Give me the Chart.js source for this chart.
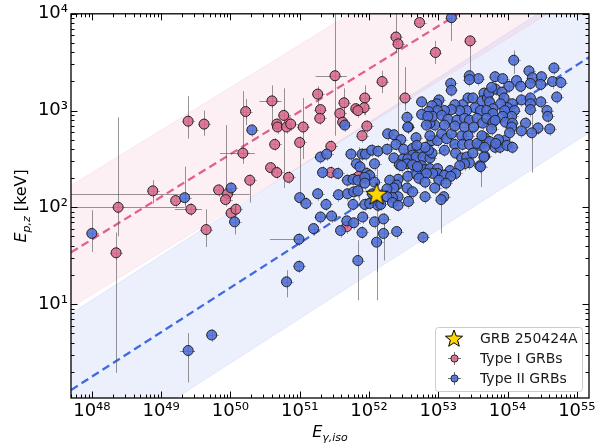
<!DOCTYPE html>
<html>
<head>
<meta charset="utf-8">
<script src="https://cdn.jsdelivr.net/npm/chart.js@4.4.1/dist/chart.umd.min.js"></script>
<style>
  html, body { margin: 0; padding: 0; background: #fff; }
  canvas { display: block; }
</style>
</head>
<body>
<canvas id="amati" width="603" height="443"></canvas>
<script>
// axis limits
const X_MIN = 5e47, X_MAX = 1.5e55;
const Y_MIN = 1.07, Y_MAX = 1e4;
const xTickValues = [1e48, 1e49, 1e50, 1e51, 1e52, 1e53, 1e54, 1e55];
const yTickValues = [1e1, 1e2, 1e3, 1e4];

// Type I GRBs (log10 Eiso [erg], log10 Ep,z [keV])
const typeILogE = [48.38,48.35,48.88,49.21,49.43,49.39,49.62,49.83,49.96,49.93,
  50.01,50.08,50.18,50.22,50.28,50.58,50.60,50.64,50.67,50.68,
  50.67,50.77,50.81,50.87,50.84,51.00,49.65,51.51,51.26,51.30,
  51.29,51.64,51.94,51.93,51.81,51.58,51.62,51.05,51.97,51.90,
  52.73,52.39,52.42,52.96,53.46,52.19,52.52,51.45,51.45,51.85,
  51.68,51.84];
const typeILogEp = [2.00,1.53,2.17,2.07,1.98,2.89,2.86,2.18,2.14,2.08,
  1.94,1.98,2.56,2.99,2.28,2.41,3.10,2.65,2.86,2.83,
  2.36,2.95,2.83,2.86,2.31,2.67,1.77,3.36,3.17,3.01,
  2.92,3.08,3.13,3.03,3.02,2.97,2.88,2.83,2.84,2.74,
  3.91,3.76,3.69,3.60,3.72,3.30,3.13,2.63,2.36,2.32,
  1.80,3.00];
// visible error bars: [logE, logEp low, logEp high] and [logEp, logE low, logE high]
const typeIEpBars = [[48.38,1.70,2.93],[48.35,0.29,1.74],[48.88,2.04,2.28],[49.39,2.71,3.15],
  [49.62,2.74,3.00],[49.93,2.08,2.85],[50.18,2.45,3.20],[50.22,2.85,3.12],[50.60,2.87,3.26],
  [50.77,2.20,3.23],[49.65,1.59,1.98],[51.51,2.74,4.10],[51.26,2.95,3.25],[52.39,3.60,4.10],
  [52.42,2.78,3.69],[52.96,3.48,3.72],[52.19,3.18,3.41],[52.52,3.00,3.45],[51.85,2.07,2.62],
  [53.46,3.40,3.75],[51.05,2.50,3.13],[51.64,2.80,3.23],[51.94,2.95,3.26],[51.00,2.12,2.70],
  [50.28,2.05,2.28]];
const typeIEBars = [[2.00,47.0,49.34],[2.14,47.0,50.28],[2.56,49.85,50.35],[3.10,50.42,50.74],
  [3.36,51.23,51.68],[1.98,49.20,49.59],[3.13,51.86,52.04]];

// Type II GRBs (log10 Eiso, log10 Ep,z)
const typeIILogE = [48.00,49.34,49.39,49.73,50.01,50.06,50.31,50.81,50.99,50.99,
  51.00,51.30,51.39,51.33,51.26,51.09,51.38,51.30,51.20,51.55,
  51.65,51.56,51.69,51.46,51.59,51.68,51.69,51.77,51.84,51.78,
  51.84,51.77,51.78,51.74,51.82,51.87,51.90,51.95,52.04,52.13,
  52.08,51.97,52.01,51.94,51.94,51.94,52.01,52.13,51.91,52.08,
  51.90,52.11,51.84,52.08,52.05,52.57,52.27,52.36,52.68,52.46,
  52.39,52.50,52.26,52.63,52.73,52.63,52.36,52.49,52.56,52.68,
  52.78,52.88,52.91,52.86,52.81,52.91,52.99,52.88,52.95,52.88,
  53.05,53.12,53.19,53.34,53.43,53.24,53.35,53.45,53.60,53.67,
  53.09,53.25,53.34,53.41,53.45,53.38,53.31,53.60,53.67,52.44,
  52.55,52.63,52.76,52.72,52.81,52.88,52.99,52.99,52.92,52.83,
  53.17,53.25,53.09,53.18,52.56,52.69,52.72,52.81,53.01,53.11,
  52.42,52.30,52.40,52.36,52.26,52.55,52.63,52.95,52.42,52.34,
  52.26,52.34,52.42,52.57,52.81,53.08,53.04,52.21,52.21,52.40,
  52.78,52.17,52.47,52.70,53.50,53.56,53.74,53.82,53.89,53.19,
  53.45,53.58,53.45,53.18,53.19,53.43,53.50,53.66,53.63,53.71,
  53.01,52.98,52.76,53.35,53.24,52.91,53.53,53.61,53.41,53.31,
  53.19,53.09,52.99,52.86,52.76,52.92,53.05,52.85,53.14,53.27,
  53.38,53.45,53.56,53.64,52.55,52.56,52.83,53.09,53.24,53.38,
  52.69,53.51,54.09,54.31,53.82,53.93,54.13,54.19,54.02,53.83,
  54.36,54.33,54.49,54.48,54.67,54.65,54.77,54.71,53.73,53.92,
  53.95,53.74,54.20,54.33,54.48,54.33,54.33,54.57,54.58,54.07,
  54.00,53.90,53.79,54.10,53.70,53.96,53.79,54.06,53.93,53.70,
  53.79,53.97,54.07,54.26,54.44,54.61,54.35,53.82,54.06,53.96,
  53.87,53.83,53.67,53.63,53.66,53.61,53.77,53.77,54.03,53.99,
  54.07,54.20];
const typeIILogEp = [1.73,2.10,0.52,0.68,2.20,1.85,2.80,1.23,1.67,1.39,
  2.10,2.52,2.55,2.36,2.14,2.04,2.03,1.90,1.78,2.35,
  2.85,2.13,2.14,1.91,1.76,1.86,2.28,2.29,2.28,2.16,
  2.17,2.03,1.84,2.55,2.45,2.42,2.55,2.55,2.59,2.58,
  2.45,2.35,2.33,2.31,2.25,2.03,2.04,2.02,1.90,1.85,
  1.74,1.64,1.45,2.26,2.14,2.83,2.76,2.75,2.72,2.70,
  2.65,2.60,2.60,2.61,2.57,2.54,2.51,2.50,2.50,2.52,
  2.52,2.51,2.56,2.59,2.62,2.69,2.69,2.74,2.85,2.87,
  2.76,2.71,2.76,2.74,2.74,2.65,2.65,2.65,2.64,2.72,
  2.59,2.56,2.51,2.52,2.46,2.45,2.43,2.43,2.53,2.44,
  2.45,2.44,2.43,2.40,2.39,2.40,2.40,2.35,2.35,2.35,
  2.38,2.35,2.33,2.32,2.32,2.34,2.30,2.26,2.28,2.25,
  2.29,2.28,2.23,2.20,2.19,2.20,2.16,2.20,2.11,2.10,
  2.11,2.05,2.02,2.06,2.11,2.11,2.08,1.88,1.73,1.75,
  1.69,2.03,2.43,2.42,2.56,2.66,2.68,2.62,2.62,3.96,
  3.36,3.33,3.32,3.28,3.21,3.13,3.13,3.18,3.10,3.13,
  3.11,3.07,3.09,3.06,3.06,3.05,3.03,3.00,3.00,3.00,
  3.01,3.00,3.00,2.99,2.96,2.94,2.95,2.94,2.91,2.90,
  2.92,2.90,2.92,2.87,2.93,2.83,2.85,2.85,2.84,2.83,
  2.64,2.83,3.52,3.41,3.35,3.33,3.31,3.25,3.25,3.22,
  3.34,3.28,3.35,3.27,3.44,3.30,3.29,3.14,3.18,3.19,
  3.13,3.09,3.11,3.13,3.09,3.07,3.01,3.00,2.94,3.07,
  3.03,3.07,3.02,3.00,3.00,3.00,2.97,2.94,2.94,2.92,
  2.88,2.88,2.87,2.87,2.82,2.81,2.77,2.90,2.83,2.69,
  2.70,2.66,2.62,2.74,2.52,2.42,2.81,3.24,2.77,2.64,
  2.62,2.79];
const typeIIEpBars = [[48.00,1.54,1.97],[49.39,0.19,0.70],[49.34,2.00,2.42],[50.06,1.72,2.02],
  [50.81,1.07,1.35],[51.84,1.04,1.66],[52.11,1.04,1.81],[53.04,1.73,2.08],[54.35,2.36,3.00],
  [53.19,3.72,4.05],[53.61,2.21,2.60],[54.09,3.38,3.62],[52.21,1.45,1.85]];
const typeIIEBars = [[0.52,49.27,49.49],[1.67,50.57,51.00],[2.77,54.15,54.46]];

// GRB 250424A
const grbLogE = 52.11, grbLogEp = 2.14;
const grbEpBar = [1.33, 2.40];

// Ep-Eiso relations: log Ep at Eiso = 1e48, slope, band above, band below
const fitTypeI = { at48: 1.667, slope: 0.441, up: 0.69, down: 0.57 };
const fitTypeII = { at48: 0.25, slope: 0.46, up: 0.79, down: 0.78 };

const FONT = "'DejaVu Sans', sans-serif";
const PINK = 'rgba(218,106,140,0.88)';
const BLUE = 'rgba(78,110,214,0.88)';
const EDGE = '#222';
const SUP = { '0':'⁰','1':'¹','2':'²','3':'³','4':'⁴','5':'⁵','6':'⁶','7':'⁷','8':'⁸','9':'⁹' };

function powLabel(v) {
  const n = Math.round(Math.log10(v));
  return '10' + String(n).split('').map(d => SUP[d]).join('');
}

// legend key: small dot with its error cross
function dotImage(fill, r, arm) {
  const s = Math.ceil(arm) * 2 + 1;
  const c = document.createElement('canvas');
  c.width = c.height = s;
  const g = c.getContext('2d');
  const m = s / 2;
  g.strokeStyle = 'rgba(70,70,70,0.75)';
  g.lineWidth = 1;
  g.beginPath();
  g.moveTo(m - arm, m); g.lineTo(m + arm, m);
  g.moveTo(m, m - arm); g.lineTo(m, m + arm);
  g.stroke();
  g.beginPath();
  g.arc(m, m, r, 0, Math.PI * 2);
  g.fillStyle = fill;
  g.fill();
  g.strokeStyle = EDGE;
  g.stroke();
  return c;
}

function starImage(R) {
  const s = Math.ceil(R) * 2 + 2;
  const c = document.createElement('canvas');
  c.width = c.height = s;
  const g = c.getContext('2d');
  const m = s / 2;
  g.beginPath();
  for (let i = 0; i < 10; i++) {
    const rr = i % 2 ? R * 0.42 : R;
    const a = -Math.PI / 2 + i * Math.PI / 5;
    g.lineTo(m + rr * Math.cos(a), m + 1 + rr * Math.sin(a));
  }
  g.closePath();
  g.fillStyle = '#ffd700';
  g.fill();
  g.strokeStyle = '#000';
  g.lineWidth = 1;
  g.stroke();
  return c;
}

const starDot = starImage(11.5);
const pinkKey = dotImage(PINK, 3.6, 6.5);
const blueKey = dotImage(BLUE, 3.6, 6.5);
const starKey = starImage(9);

function points(logE, logEp) {
  return logE.map((e, i) => ({ x: 10 ** e, y: 10 ** logEp[i] }));
}
function fitLine(fit, off) {
  return [X_MIN, X_MAX].map(e => ({ x: e, y: 10 ** (fit.at48 + fit.slope * (Math.log10(e) - 48) + off) }));
}

function drawBars(chart, vBars, hBars, logE, logEp) {
  const { ctx, chartArea: a, scales: { x, y } } = chart;
  ctx.save();
  ctx.beginPath();
  ctx.rect(a.left, a.top, a.right - a.left, a.bottom - a.top);
  ctx.clip();
  ctx.strokeStyle = 'rgba(80,80,80,0.6)';
  ctx.lineWidth = 1;
  ctx.beginPath();
  vBars.forEach(([e, lo, hi]) => {
    const px = Math.round(x.getPixelForValue(10 ** e)) + 0.5;
    ctx.moveTo(px, y.getPixelForValue(10 ** lo));
    ctx.lineTo(px, y.getPixelForValue(10 ** hi));
  });
  hBars.forEach(([ep, lo, hi]) => {
    const py = Math.round(y.getPixelForValue(10 ** ep)) + 0.5;
    ctx.moveTo(x.getPixelForValue(10 ** lo), py);
    ctx.lineTo(x.getPixelForValue(10 ** hi), py);
  });
  ctx.stroke();
  // short error crosses under every marker
  ctx.strokeStyle = 'rgba(80,80,80,0.45)';
  ctx.beginPath();
  logE.forEach((e, i) => {
    const px = Math.round(x.getPixelForValue(10 ** e)) + 0.5;
    const py = Math.round(y.getPixelForValue(10 ** logEp[i])) + 0.5;
    ctx.moveTo(px - 6.5, py); ctx.lineTo(px + 6.5, py);
    ctx.moveTo(px, py - 6.5); ctx.lineTo(px, py + 6.5);
  });
  ctx.stroke();
  ctx.restore();
}

function drawTicks(chart) {
  const { ctx, chartArea: a, scales: { x, y } } = chart;
  ctx.save();
  ctx.strokeStyle = '#000';
  ctx.lineWidth = 1;
  ctx.beginPath();
  for (let n = 47; n <= 55; n++) {
    for (let m = 1; m <= 9; m++) {
      const v = m * 10 ** n;
      if (v < X_MIN || v > X_MAX) continue;
      const px = Math.round(x.getPixelForValue(v)) + 0.5;
      const len = m === 1 ? 6.5 : 3.5;
      ctx.moveTo(px, a.bottom); ctx.lineTo(px, a.bottom - len);
      ctx.moveTo(px, a.top); ctx.lineTo(px, a.top + len);
    }
  }
  for (let n = 0; n <= 4; n++) {
    for (let m = 1; m <= 9; m++) {
      const v = m * 10 ** n;
      if (v < Y_MIN || v > Y_MAX) continue;
      const py = Math.round(y.getPixelForValue(v)) + 0.5;
      const len = m === 1 ? 6.5 : 3.5;
      ctx.moveTo(a.left, py); ctx.lineTo(a.left + len, py);
      ctx.moveTo(a.right, py); ctx.lineTo(a.right - len, py);
    }
  }
  ctx.stroke();
  ctx.lineWidth = 1.3;
  ctx.strokeRect(a.left, a.top, a.right - a.left, a.bottom - a.top);
  ctx.restore();
}

function drawSubText(ctx, parts) {
  // parts: [text, font, baseline shift]
  let w = 0;
  parts.forEach(p => { ctx.font = p[1]; w += ctx.measureText(p[0]).width; });
  let cx = -w / 2;
  parts.forEach(p => {
    ctx.font = p[1];
    ctx.fillText(p[0], cx, p[2]);
    cx += ctx.measureText(p[0]).width;
  });
}

function drawTitles(chart) {
  const { ctx, chartArea: a } = chart;
  ctx.save();
  ctx.fillStyle = '#000';
  ctx.textBaseline = 'alphabetic';
  ctx.textAlign = 'left';
  ctx.save();
  ctx.translate((a.left + a.right) / 2, 437);
  drawSubText(ctx, [['E', 'italic 16px ' + FONT, 0], ['γ,iso', 'italic 11px ' + FONT, 4]]);
  ctx.restore();
  ctx.save();
  ctx.translate(26, (a.top + a.bottom) / 2);
  ctx.rotate(-Math.PI / 2);
  drawSubText(ctx, [['E', 'italic 16px ' + FONT, 0], ['p,z', 'italic 11px ' + FONT, 4], [' [keV]', '16px ' + FONT, 0]]);
  ctx.restore();
  ctx.restore();
}

function drawLegend(chart) {
  const { ctx, chartArea: a } = chart;
  const w = 147, h = 64;
  const left = Math.round(a.right - 7 - w), top = Math.round(a.bottom - 7 - h);
  ctx.save();
  ctx.beginPath();
  ctx.roundRect(left + 0.5, top + 0.5, w, h, 3);
  ctx.fillStyle = 'rgba(255,255,255,0.85)';
  ctx.fill();
  ctx.strokeStyle = '#cccccc';
  ctx.lineWidth = 1;
  ctx.stroke();
  const rows = [[starKey, 'GRB 250424A'], [pinkKey, 'Type I GRBs'], [blueKey, 'Type II GRBs']];
  ctx.font = '14px ' + FONT;
  ctx.fillStyle = '#1a1a1a';
  ctx.textBaseline = 'middle';
  rows.forEach(([img, label], i) => {
    const cy = top + 11 + i * 20;
    ctx.drawImage(img, Math.round(left + 19 - img.width / 2), Math.round(cy - img.height / 2));
    ctx.fillText(label, left + 45, cy + 1);
  });
  ctx.restore();
}

const extras = {
  id: 'extras',
  beforeDatasetDraw(chart, args) {
    if (args.index === 2) drawBars(chart, typeIEpBars, typeIEBars, typeILogE, typeILogEp);
    if (args.index === 1) drawBars(chart, typeIIEpBars, typeIIEBars, typeIILogE, typeIILogEp);
    if (args.index === 0) drawBars(chart, [[grbLogE, grbEpBar[0], grbEpBar[1]]], [], [], []);
  },
  afterDatasetsDraw(chart) {
    drawTicks(chart);
  },
  afterDraw(chart) {
    drawLegend(chart);
    drawTitles(chart);
  }
};

new Chart(document.getElementById('amati'), {
  type: 'scatter',
  data: {
    datasets: [
      { label: 'GRB 250424A', data: [{ x: 10 ** grbLogE, y: 10 ** grbLogEp }], pointStyle: starDot, order: 1 },
      { label: 'Type II GRBs', data: points(typeIILogE, typeIILogEp), pointStyle: 'circle', pointRadius: 5,
        backgroundColor: BLUE, borderColor: EDGE, borderWidth: 1, order: 2 },
      { label: 'Type I GRBs', data: points(typeILogE, typeILogEp), pointStyle: 'circle', pointRadius: 5,
        backgroundColor: PINK, borderColor: EDGE, borderWidth: 1, order: 3 },
      { type: 'line', data: fitLine(fitTypeI, 0), borderColor: '#e2608a', borderWidth: 2.3,
        borderDash: [8, 4.5], pointRadius: 0, fill: false, order: 6 },
      { type: 'line', data: fitLine(fitTypeII, 0), borderColor: '#4169e1', borderWidth: 2.3,
        borderDash: [8, 4.5], pointRadius: 0, fill: false, order: 6 },
      { type: 'line', data: fitLine(fitTypeI, fitTypeI.up), borderColor: 'rgba(226,96,138,0.1)', borderWidth: 1,
        backgroundColor: 'rgba(231,84,128,0.085)', pointRadius: 0, fill: '+1', order: 9 },
      { type: 'line', data: fitLine(fitTypeI, -fitTypeI.down), borderColor: 'rgba(226,96,138,0.1)', borderWidth: 1,
        pointRadius: 0, fill: false, order: 9 },
      { type: 'line', data: fitLine(fitTypeII, fitTypeII.up), borderColor: 'rgba(65,105,225,0.1)', borderWidth: 1,
        backgroundColor: 'rgba(65,105,225,0.1)', pointRadius: 0, fill: '+1', order: 10 },
      { type: 'line', data: fitLine(fitTypeII, -fitTypeII.down), borderColor: 'rgba(65,105,225,0.1)', borderWidth: 1,
        pointRadius: 0, fill: false, order: 10 }
    ]
  },
  options: {
    responsive: false,
    animation: false,
    events: [],
    devicePixelRatio: 1,
    layout: { padding: { top: 13, right: 14, left: 0, bottom: 0 } },
    plugins: { legend: { display: false }, tooltip: { enabled: false } },
    scales: {
      x: {
        type: 'logarithmic', min: X_MIN, max: X_MAX,
        grid: { display: false, drawTicks: false }, border: { display: false },
        afterBuildTicks: s => { s.ticks = xTickValues.map(v => ({ value: v })); },
        afterFit: s => { s.height = 45; },
        ticks: { font: { family: FONT, size: 18 }, color: '#000', padding: 3, maxRotation: 0,
          autoSkip: false, callback: v => powLabel(v) }
      },
      y: {
        type: 'logarithmic', min: Y_MIN, max: Y_MAX,
        grid: { display: false, drawTicks: false }, border: { display: false },
        afterBuildTicks: s => { s.ticks = yTickValues.map(v => ({ value: v })); },
        afterFit: s => { s.width = 71; },
        ticks: { font: { family: FONT, size: 18 }, color: '#000', padding: 3,
          autoSkip: false, callback: v => powLabel(v) }
      }
    }
  },
  plugins: [extras]
});
</script>
</body>
</html>
